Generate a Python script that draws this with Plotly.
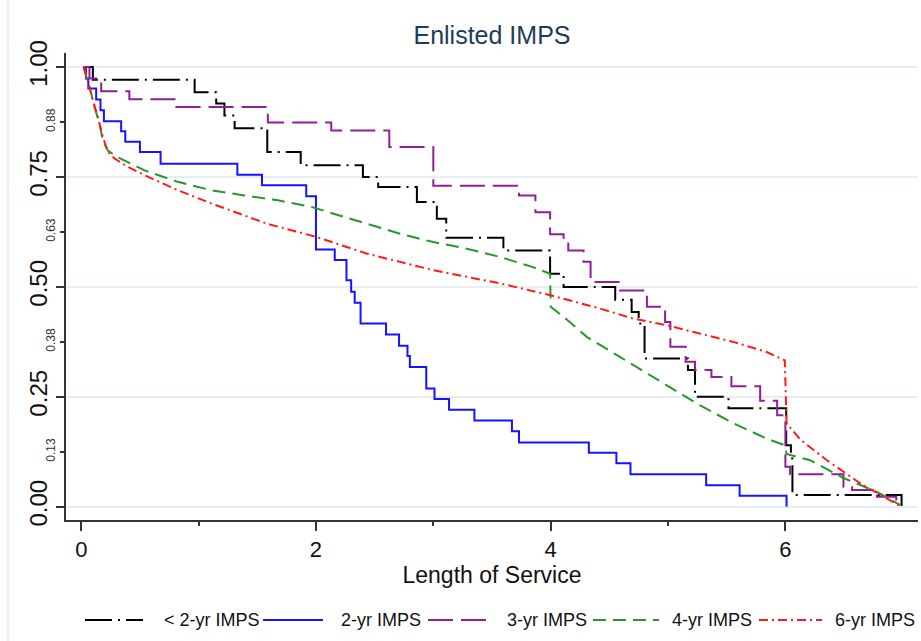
import plotly.graph_objects as go

# ---------------- data ----------------
series_names = ["< 2-yr IMPS", "2-yr IMPS", "3-yr IMPS", "4-yr IMPS", "6-yr IMPS"]

lt2_x = [0.02, 0.099, 0.966, 1.15, 1.22, 1.307, 1.585, 1.87, 2.40, 2.53, 2.86, 3.03, 3.11,
         3.597, 3.995, 4.11, 4.55, 4.69, 4.75, 4.80, 5.17, 5.23, 5.515, 6.007, 6.047, 6.06, 6.99]
lt2_y = [1.0, 0.971, 0.943, 0.917, 0.89, 0.861, 0.807, 0.777, 0.75, 0.727, 0.693, 0.655, 0.612,
         0.583, 0.53, 0.5, 0.471, 0.443, 0.417, 0.337, 0.311, 0.25, 0.224, 0.14, 0.11, 0.027, 0.0]

yr2_x = [0.02, 0.04, 0.06, 0.127, 0.164, 0.193, 0.34, 0.375, 0.50, 0.676, 1.33, 1.54, 1.917, 2.0,
         2.16, 2.26, 2.30, 2.33, 2.38, 2.597, 2.708, 2.78, 2.80, 2.94, 3.01, 3.134, 3.35, 3.67,
         3.73, 4.325, 4.56, 4.68, 5.325, 5.61, 6.01]
yr2_y = [1.0, 0.974, 0.951, 0.926, 0.902, 0.877, 0.854, 0.83, 0.807, 0.78, 0.755, 0.731, 0.706, 0.585,
         0.561, 0.515, 0.489, 0.464, 0.417, 0.392, 0.366, 0.343, 0.318, 0.269, 0.245, 0.221, 0.196, 0.172,
         0.146, 0.123, 0.099, 0.074, 0.049, 0.025, 0.0]

yr3_x = [0.02, 0.07, 0.17, 0.41, 0.81, 1.59, 2.13, 2.625, 3.0, 3.73, 3.87, 3.995, 4.11, 4.15, 4.28,
         4.34, 4.59, 4.82, 4.975, 5.02, 5.15, 5.23, 5.37, 5.54, 5.785, 5.93, 6.0, 6.04, 6.495, 6.567,
         6.78, 6.945]
yr3_y = [1.0, 0.974, 0.945, 0.927, 0.909, 0.874, 0.856, 0.818, 0.73, 0.708, 0.67, 0.62, 0.602, 0.583, 0.557,
         0.511, 0.492, 0.455, 0.42, 0.364, 0.33, 0.311, 0.295, 0.274, 0.241, 0.208, 0.091, 0.074, 0.045, 0.038,
         0.023, 0.005]

yr4_x = [0.02, 0.056, 0.085, 0.113, 0.156, 0.184, 0.227, 0.312, 0.54, 0.823, 1.107, 1.39, 1.676, 1.96,
         2.147, 2.43, 2.716, 3.0, 3.285, 3.57, 3.85, 3.995, 4.0, 4.11, 4.31, 4.564, 4.705, 4.99, 5.27,
         5.557, 5.84, 5.995, 6.01, 6.21, 6.5, 6.78, 6.98]
yr4_y = [1.0, 0.969, 0.94, 0.909, 0.871, 0.833, 0.81, 0.795, 0.765, 0.739, 0.72, 0.708, 0.697, 0.682,
         0.667, 0.644, 0.621, 0.602, 0.587, 0.568, 0.545, 0.53, 0.455, 0.432, 0.386, 0.345, 0.322, 0.277, 0.231,
         0.19, 0.155, 0.14, 0.12, 0.106, 0.065, 0.034, 0.004]

yr6_x = [0.02, 0.056, 0.099, 0.142, 0.184, 0.227, 0.284, 0.397, 0.54, 0.823, 1.107, 1.58, 2.0, 2.43,
         2.716, 3.0, 3.285, 3.57, 4.0, 4.42, 4.705, 4.99, 5.27, 5.557, 5.84, 5.995, 6.01, 6.13, 6.354,
         6.64, 6.99]
yr6_y = [1.0, 0.969, 0.924, 0.886, 0.841, 0.807, 0.792, 0.773, 0.754, 0.72, 0.69, 0.644, 0.614, 0.576,
         0.557, 0.538, 0.523, 0.508, 0.481, 0.451, 0.428, 0.413, 0.394, 0.375, 0.352, 0.333, 0.19, 0.152, 0.106,
         0.053, 0.0]

x_major_ticks = [0, 2, 4, 6]
x_minor_ticks = [1, 3, 5]
y_major_ticks = [0, 0.25, 0.5, 0.75, 1.0]
y_minor_ticks = [0.125, 0.375, 0.625, 0.875]
y_minor_text = ["0.13", "0.38", "0.63", "0.88"]

# ---------------- styles ----------------
colors = ["#000000", "#1414ff", "#8e1f95", "#2a962a", "#ff1a1a"]
dashes = ["27px,6px,2px,6px", "solid", "25px,8px", "13px,7px", "9px,4px,2px,4px"]
shapes_mode = ["hv", "hv", "hv", "linear", "linear"]
xs = [lt2_x, yr2_x, yr3_x, yr4_x, yr6_x]
ys = [lt2_y, yr2_y, yr3_y, yr4_y, yr6_y]

W, H = 921, 641
L, R, T, B = 66, 3, 53, 121
PW, PH = W - L - R, H - T - B

fig = go.Figure()
for name, x, y, c, d, s in zip(series_names, xs, ys, colors, dashes, shapes_mode):
    fig.add_trace(go.Scatter(x=x, y=y, mode="lines", name=name, showlegend=False,
                             line=dict(color=c, dash=d, width=2, shape=s)))
# dummy trace to carry the minor-label y axis
fig.add_trace(go.Scatter(x=[None], y=[None], yaxis="y2", showlegend=False, hoverinfo="skip"))

yr = [-0.03, 1.032]
fig.update_layout(
    width=W, height=H,
    margin=dict(l=L, r=R, t=T, b=B),
    plot_bgcolor="white", paper_bgcolor="white",
    font=dict(family="Liberation Sans, Arial, sans-serif", color="#1a1a1a"),
    title=dict(text="Enlisted IMPS", x=(L + PW / 2) / W, xanchor="center", y=1 - 35 / H, yanchor="middle",
               font=dict(size=25, color="#1f3b5c")),
    xaxis=dict(range=[-0.13, 7.13], tickvals=x_major_ticks, ticks="outside", ticklen=9, tickwidth=1.5,
               tickcolor="#333", showline=True, linecolor="#333", linewidth=1.5, showgrid=False,
               zeroline=False, tickfont=dict(size=22, color="#111"),
               minor=dict(tickvals=x_minor_ticks, ticks="outside", ticklen=4, tickwidth=1.5, tickcolor="#333",
                          showgrid=False),
               title=dict(text="Length of Service", font=dict(size=23, color="#111"), standoff=2)),
    yaxis=dict(range=yr, tickvals=y_major_ticks, tickformat=".2f", ticks="outside", ticklen=8, tickwidth=1.5,
               tickcolor="#333", showline=True, linecolor="#333", linewidth=1.5, showgrid=True,
               gridcolor="#e6eef1", gridwidth=2, zeroline=False, tickangle=-90,
               tickfont=dict(size=24, color="#111")),
    yaxis2=dict(range=yr, overlaying="y", anchor="x", side="left", tickvals=y_minor_ticks, ticktext=y_minor_text,
                ticks="outside", ticklen=5, tickwidth=1.5, tickcolor="#333", showline=False, showgrid=False,
                zeroline=False, tickangle=-90, tickfont=dict(size=12, color="#333")),
)

# ---------------- manual legend (long line samples like the reference) ----------------
leg_line_px = [(85, 143), (263, 323), (428, 488), (593, 659), (759, 822)]
leg_text_px = [162, 339, 505, 670, 833]
leg_y_px = 620
def px_x(p): return (p - L) / PW
def px_y(p): return (H - B - p) / PH
for name, c, d, (a, b), tx in zip(series_names, colors, dashes, leg_line_px, leg_text_px):
    fig.add_shape(type="line", xref="paper", yref="paper", x0=px_x(a), x1=px_x(b),
                  y0=px_y(leg_y_px), y1=px_y(leg_y_px), line=dict(color=c, width=2, dash=d))
    fig.add_annotation(xref="paper", yref="paper", x=px_x(tx), y=px_y(leg_y_px), text=name, showarrow=False,
                       xanchor="left", yanchor="middle", font=dict(size=18, color="#111"))

# faint outer region border on the left
fig.add_shape(type="line", xref="paper", yref="paper", x0=px_x(8), x1=px_x(8), y0=px_y(0), y1=px_y(H),
              line=dict(color="#e8eef0", width=1.5))

fig.write_html("out.html")
